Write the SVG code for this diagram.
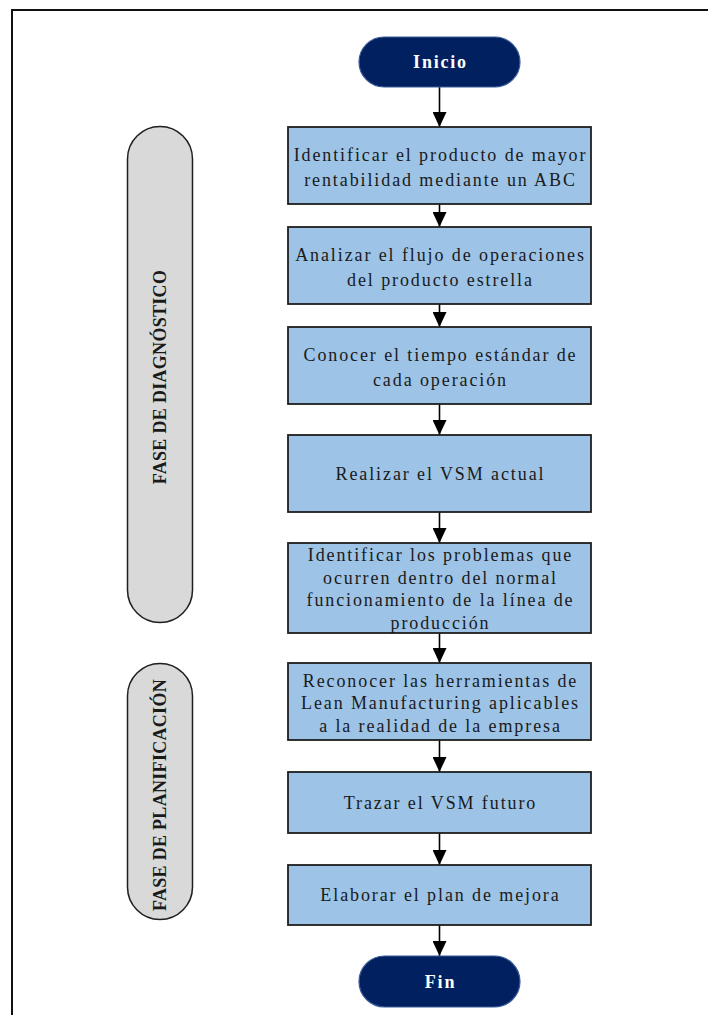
<svg xmlns="http://www.w3.org/2000/svg" width="708" height="1015" viewBox="0 0 708 1015">
  <defs>
    <marker id="arrow" markerUnits="userSpaceOnUse" markerWidth="16" markerHeight="14" refX="15" refY="7" orient="auto">
      <path d="M0,0 L15,7 L0,14 Z" fill="#000"/>
    </marker>
    <style>
      .frame { fill: none; stroke: #111; stroke-width: 2; }
      .step rect { fill: #9dc3e6; stroke: #1e1e1e; stroke-width: 1.8; }
      .step text { font-family: "Liberation Serif", "Times New Roman", serif; font-size: 18px; fill: #1a1a1a; text-anchor: middle; letter-spacing: 1.9px; }
      .term rect { fill: #002060; stroke: #3a5a9a; stroke-width: 1.2; }
      .term text { font-family: "Liberation Serif", "Times New Roman", serif; font-size: 18px; font-weight: bold; fill: #fff; text-anchor: middle; letter-spacing: 1.8px; }
      .phase rect { fill: #d9d9d9; stroke: #1e1e1e; stroke-width: 1.5; }
      .phase text { font-family: "Liberation Serif", "Times New Roman", serif; font-size: 18px; font-weight: bold; fill: #1a1a1a; text-anchor: middle; letter-spacing: 0.3px; }
      .conn line { stroke: #000; stroke-width: 1.6; marker-end: url(#arrow); }
    </style>
  </defs>

  <!-- page frame -->
  <rect class="frame" x="12" y="10" width="720" height="1030"/>

  <!-- phase bands -->
  <g id="fase-diagnostico" class="phase">
    <rect x="127.5" y="126.5" width="65" height="496" rx="32.5" ry="32.5"/>
    <text transform="translate(166,377) rotate(-90)">FASE DE DIAGNÓSTICO</text>
  </g>
  <g id="fase-planificacion" class="phase">
    <rect x="127.5" y="663.5" width="65" height="256" rx="32.5" ry="32.5"/>
    <text transform="translate(166,795) rotate(-90)">FASE DE PLANIFICACIÓN</text>
  </g>

  <!-- connectors -->
  <g id="connectors" class="conn">
    <line x1="439.5" y1="87" x2="439.5" y2="127"/>
    <line x1="439.5" y1="204" x2="439.5" y2="227"/>
    <line x1="439.5" y1="304" x2="439.5" y2="327"/>
    <line x1="439.5" y1="404" x2="439.5" y2="435"/>
    <line x1="439.5" y1="512" x2="439.5" y2="543"/>
    <line x1="439.5" y1="633" x2="439.5" y2="663"/>
    <line x1="439.5" y1="740" x2="439.5" y2="772"/>
    <line x1="439.5" y1="833" x2="439.5" y2="865"/>
    <line x1="439.5" y1="925" x2="439.5" y2="956"/>
  </g>

  <!-- start / end -->
  <g id="inicio" class="term">
    <rect x="359" y="37" width="161" height="50" rx="25" ry="25"/>
    <text x="440.5" y="68">Inicio</text>
  </g>
  <g id="fin" class="term">
    <rect x="359" y="956" width="161" height="51" rx="25.5" ry="25.5"/>
    <text x="440.5" y="988">Fin</text>
  </g>

  <!-- process steps -->
  <g id="paso-1" class="step">
    <rect x="288" y="127" width="303" height="77"/>
    <text x="440.5" y="161">Identificar el producto de mayor</text>
    <text x="440.5" y="186">rentabilidad mediante un ABC</text>
  </g>
  <g id="paso-2" class="step">
    <rect x="288" y="227" width="303" height="77"/>
    <text x="440.5" y="261">Analizar el flujo de operaciones</text>
    <text x="440.5" y="286">del producto estrella</text>
  </g>
  <g id="paso-3" class="step">
    <rect x="288" y="327" width="303" height="77"/>
    <text x="440.5" y="361">Conocer el tiempo estándar de</text>
    <text x="440.5" y="386">cada operación</text>
  </g>
  <g id="paso-4" class="step">
    <rect x="288" y="435" width="303" height="77"/>
    <text x="440.5" y="479.5">Realizar el VSM actual</text>
  </g>
  <g id="paso-5" class="step">
    <rect x="288" y="543" width="303" height="90"/>
    <text x="440.5" y="561">Identificar los problemas que</text>
    <text x="440.5" y="583.5">ocurren dentro del normal</text>
    <text x="440.5" y="606">funcionamiento de la línea de</text>
    <text x="440.5" y="628.5">producción</text>
  </g>
  <g id="paso-6" class="step">
    <rect x="288" y="663" width="303" height="77"/>
    <text x="440.5" y="686.5">Reconocer las herramientas de</text>
    <text x="440.5" y="709">Lean Manufacturing aplicables</text>
    <text x="440.5" y="731.5">a la realidad de la empresa</text>
  </g>
  <g id="paso-7" class="step">
    <rect x="288" y="772" width="303" height="61"/>
    <text x="440.5" y="808.5">Trazar el VSM futuro</text>
  </g>
  <g id="paso-8" class="step">
    <rect x="288" y="865" width="303" height="60"/>
    <text x="440.5" y="901">Elaborar el plan de mejora</text>
  </g>
</svg>
